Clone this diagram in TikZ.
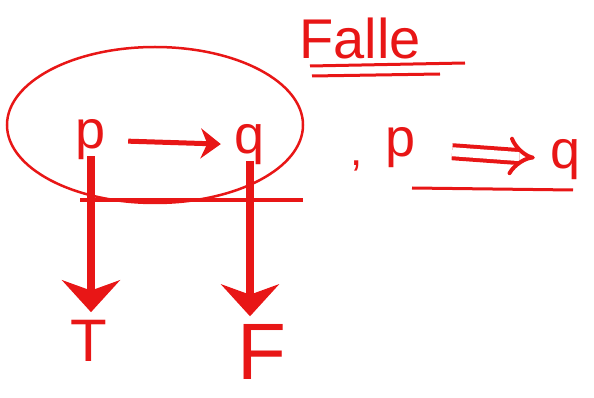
\documentclass[tikz,border=0pt]{standalone}
\usepackage{fontspec}
\setmainfont{Liberation Sans}
\usetikzlibrary{arrows.meta}
\definecolor{ink}{RGB}{232,22,22}

\begin{document}
\begin{tikzpicture}[x=1pt, y=-1pt, every node/.style={text=ink, inner sep=0pt}]
    \useasboundingbox (0,0) rectangle (594,398);
    % title and its underline
    \node (falle) at (360,38) {\fontsize{56}{56}\selectfont Falle};
    \coordinate (ula) at (310,66);  \coordinate (ulb) at (465,63);
    \coordinate (ulc) at (312,76);  \coordinate (uld) at (440,74);
    \draw[ink, line width=3pt] (ula) -- (ulb);
    \draw[ink, line width=3pt] (ulc) -- (uld);
    % the circled statement
    \draw[ink, line width=2.5pt] (155,125) ellipse [x radius=148, y radius=78];
    \node (p) at (91,140) {\fontsize{54}{54}\selectfont p};
    \node (q) at (250,145) {\fontsize{54}{54}\selectfont q};
    \draw[ink, line width=5pt, shorten <=22pt, shorten >=14pt,
          -{Stealth[length=20pt,width=30pt]}] (p) -- (q);
    \coordinate (hl) at (80,200);
    \coordinate (hr) at (303,200);
    \draw[ink, line width=4pt] (hl) -- (hr);
    % truth values
    \node (T) at (89,341) {\fontsize{60}{60}\selectfont T};
    \node (F) at (262,352) {\fontsize{80}{80}\selectfont F};
    \foreach \a/\b in {p/T, q/F}{
      \draw[ink, line width=8pt, shorten <=-4pt, shorten >=8pt,
            -{Stealth[length=32pt,width=58pt]}] (\a.south) -- (\a.south |- \b.north);
    }
    % right hand side
    \node (comma) at (357,166) {\fontsize{44}{44}\selectfont ,};
    \node (p2) at (401,148) {\fontsize{54}{54}\selectfont p};
    \node (q2) at (566,160) {\fontsize{54}{54}\selectfont q};
    \draw[ink, line width=4pt, double, double distance=9pt, shorten <=36pt, shorten >=16pt,
          -{Implies}] (p2) -- (q2);
    \coordinate (ua) at (412,188);
    \coordinate (ub) at (573,190);
    \draw[ink, line width=3pt] (ua) -- (ub);
  \end{tikzpicture}
\end{document}
